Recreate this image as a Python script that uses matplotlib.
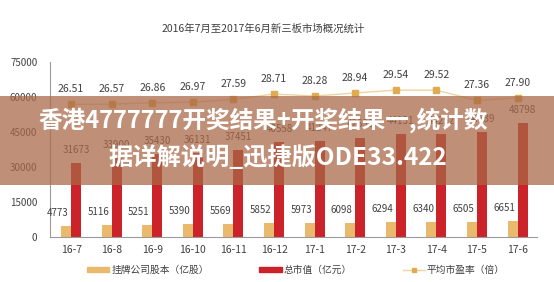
import matplotlib
matplotlib.use('Agg')
import matplotlib.pyplot as plt
import numpy as np
from matplotlib.patches import Patch, Rectangle
from matplotlib.lines import Line2D

plt.rcParams['font.family'] = ['Noto Sans CJK SC', 'DejaVu Sans']

months = ['16-7', '16-8', '16-9', '16-10', '16-11', '16-12',
          '17-1', '17-2', '17-3', '17-4', '17-5', '17-6']
shares = [4773, 5116, 5251, 5390, 5569, 5852, 5973, 6098, 6294, 6340, 6505, 6651]
market_cap = [31673, 33900, 35430, 36131, 37451, 40558,
              41247, 42631, 44131, 44252, 44839, 48798]
pe = [26.51, 26.57, 26.86, 26.97, 27.59, 28.71, 28.28, 28.94, 29.54, 29.52, 27.36, 27.90]

c_yellow = '#e9b96e'
c_red = '#cc2229'
c_line = '#eed3a3'
c_marker = '#e2ab52'
c_text = '#404040'

fig = plt.figure(figsize=(5.54, 2.82), dpi=100)
ax = fig.add_axes([50/554, 1-237/282, 487/554, 175/282])

x = np.arange(len(months))
w = 0.246
ax.bar(x - w/2, shares, w, color=c_yellow)
ax.bar(x + w/2, market_cap, w, color=c_red)

for xi, v in zip(x, shares):
    ax.annotate(str(v), (xi - w/2, v), xytext=(-6, 9.4), textcoords='offset points',
                ha='center', va='center', fontsize=7, color=c_text)
for xi, v in zip(x, market_cap):
    ax.annotate(str(v), (xi + w/2, v), xytext=(0, 9.4), textcoords='offset points',
                ha='center', va='center', fontsize=7, color=c_text)

ax.set_xlim(-0.52, 11.48)
ax.set_ylim(0, 75000)
ax.set_yticks(range(0, 75001, 15000))
ax.set_xticks(x)
ax.set_xticklabels(months)
ax.tick_params(axis='both', length=0, labelsize=7, colors=c_text)
ax.tick_params(axis='x', pad=6, labelsize=7.5)
ax.tick_params(axis='y', pad=9)
for s in ['top', 'right']:
    ax.spines[s].set_visible(False)
ax.spines['left'].set_color('#9a9a9a')
ax.spines['bottom'].set_color('#9a9a9a')
ax.spines['left'].set_linewidth(0.8)
ax.spines['bottom'].set_linewidth(0.8)

ax2 = ax.twinx()
ax2.plot(x, pe, color=c_line, lw=1.0, marker='s', ms=4,
         mfc=c_marker, mec=c_marker)
for xi, v in zip(x, pe):
    ax2.annotate(f'{v:.2f}', (xi, v), xytext=(0, 10.8), textcoords='offset points',
                 ha='center', va='center', fontsize=7.5, color=c_text)
ax2.set_ylim(-1.6, 35.5)
ax2.axis('off')

fig.text(263/554, 1-29/282, '2016年7月至2017年6月新三板市场概况统计',
         ha='center', va='center', fontsize=7.5, color=c_text)

handles = [Patch(color=c_yellow), Patch(color=c_red),
           Line2D([], [], color=c_line, lw=1, marker='s', ms=3.5,
                  mfc=c_marker, mec=c_marker)]
labels = ['挂牌公司股本（亿股）', '总市值（亿元）', '平均市盈率（倍）']
fig.legend(handles, labels, loc='center', bbox_to_anchor=(296/554, 1-270/282),
           ncol=3, frameon=False, fontsize=7, handlelength=2.3, handleheight=0.55,
           handletextpad=0.2, columnspacing=5.2, labelcolor=c_text)

# overlay banner
band = Rectangle((0, 1-185/282), 1, 89/282, transform=fig.transFigure,
                 facecolor=(170/255, 104/255, 71/255), alpha=0.74, zorder=5,
                 edgecolor='none')
fig.patches.append(band)
fig.text(263/554, 1-120/282, '香港4777777开奖结果+开奖结果一,统计数',
         ha='center', va='center', fontsize=17, fontweight='bold',
         color='white', zorder=6)
fig.text(278/554, 1-158/282, '据详解说明_迅捷版ODE33.422',
         ha='center', va='center', fontsize=17.5, fontweight='bold',
         color='white', zorder=6)

fig.savefig('out.png', dpi=100)
